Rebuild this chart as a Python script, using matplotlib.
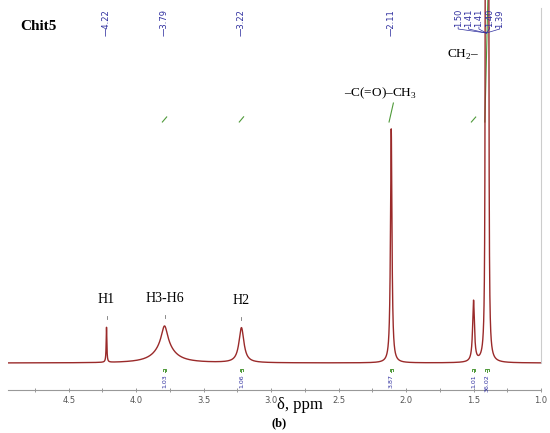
import numpy as np
import matplotlib.pyplot as plt
from matplotlib.ticker import MultipleLocator

plt.rcParams['font.family'] = ['Liberation Serif', 'DejaVu Serif']
plt.rcParams['mathtext.fontset'] = 'custom'
plt.rcParams['mathtext.rm'] = 'Liberation Serif'

# picos (ppm, altura, meia largura) - H3-H6 como soma de duas lorentzianas
centros = [4.22, 3.79, 3.79, 3.22, 2.11, 1.50, 1.41, 1.40, 1.39]
alturas = [35, 21, 16, 35, 234, 61, 1500, 1500, 1500]
larguras = [0.003, 0.028, 0.085, 0.022, 0.0065, 0.008, 0.002, 0.002, 0.002]

# rotulos dos picos no topo
picos_simples = [4.22, 3.79, 3.22, 2.11]
picos_multi = ["1.50", "1.41", "1.41", "1.40", "1.39"]

# integrais
int_centros = [3.79, 3.22, 2.11, 1.50, 1.40]
int_valores = [1.03, 1.06, 3.87, 1.01, 36.02]

# atribuicoes
atrib = ["H1", "H3-H6", "H2"]
atrib_ppm = [4.22, 3.79, 3.22]

COR_ESP = "#9a2a2a"
COR_AZUL = "#2f2f9f"
COR_VERDE = "#4f9a3a"
COR_CINZA = "#777777"

x = np.linspace(4.95, 1.0, 30000)
y = np.zeros_like(x)
for c, h, w in zip(centros, alturas, larguras):
    y += h / (1 + ((x - c) / w) ** 2)


def altura_em(c):
    return y[np.argmin(np.abs(x - c))]


fig = plt.figure(figsize=(5.5, 4.33), dpi=100)
ax = fig.add_axes([8 / 550, 43 / 433, 533 / 550, 390 / 433])

# curvas de integral (verde)
base_int = 241
escala_int = 4.9
for c, v in zip(int_centros, int_valores):
    d = 0.016
    ax.plot([c + d, c - d], [base_int, base_int + v * escala_int],
            color=COR_VERDE, lw=0.8)
    # marcador da faixa integrada
    ax.plot([c + 0.012, c + 0.012, c - 0.012, c - 0.012],
            [-8, -6, -6, -8], color=COR_VERDE, lw=0.7)
    ax.plot([c, c], [-6, -9], color=COR_VERDE, lw=0.7)
    ax.text(c, -11, f"{v:.2f}", rotation=90, ha="center", va="top",
            fontsize=4.5, color=COR_AZUL, family="DejaVu Sans")

ax.plot(x, y, color=COR_ESP, lw=1.0)

# marcas de pico acima das atribuicoes + rotulos
for t, c in zip(atrib, atrib_ppm):
    h = altura_em(c)
    ax.plot([c, c], [h + 8, h + 11], color=COR_CINZA, lw=0.6)
    ax.text(c, h + 21, t, ha="center", va="bottom", fontsize=10)

ax.text(2.19, 270, "–C(=O)–CH$_3$", ha="center", va="center", fontsize=9.5)
ax.text(1.58, 308, "CH$_2$–", ha="center", va="center", fontsize=9.5)

# rotulos de deslocamento
for c in picos_simples:
    ax.text(c, 354, f"—{c:.2f}", rotation=90, ha="center", va="top",
            fontsize=6, color=COR_AZUL, family="DejaVu Sans")

xc = 1.405
for i, t in enumerate(picos_multi):
    xl = 1.46 + (2 - i) * 0.077
    ax.text(xl, 354, t, rotation=90, ha="center", va="top",
            fontsize=6, color=COR_AZUL, family="DejaVu Sans")
    ax.plot([xl, xl, xc], [336, 334, 330], color=COR_AZUL, lw=0.5)

ax.plot([1.0, 1.0], [0, 355], color="#cccccc", lw=0.8, clip_on=False)

ax.set_xlim(4.95, 1.0)
ax.set_ylim(-27, 363)
for s in ["top", "left", "right"]:
    ax.spines[s].set_visible(False)
ax.spines["bottom"].set_color("#999999")
ax.spines["bottom"].set_linewidth(0.8)
ax.set_yticks([])
ax.xaxis.set_major_locator(MultipleLocator(0.5))
ax.xaxis.set_minor_locator(MultipleLocator(0.25))
ax.xaxis.set_major_formatter(plt.FormatStrFormatter("%.1f"))
ax.tick_params(axis="x", which="both", direction="inout", length=3,
               width=0.6, color="#888888", labelsize=6, labelcolor="#555555",
               pad=3)
for lb in ax.get_xticklabels():
    lb.set_family("DejaVu Sans")

fig.text(20 / 550, 1 - 27 / 433, "Chit5", fontsize=11, fontweight="bold",
         va="center", ha="left")
fig.text(300 / 550, 1 - 405 / 433, "δ, ppm", fontsize=12, ha="center",
         va="center")
fig.text(279 / 550, 1 - 423 / 433, "(b)", fontsize=9, fontweight="bold",
         ha="center", va="center")

fig.savefig("out.png", dpi=100)
